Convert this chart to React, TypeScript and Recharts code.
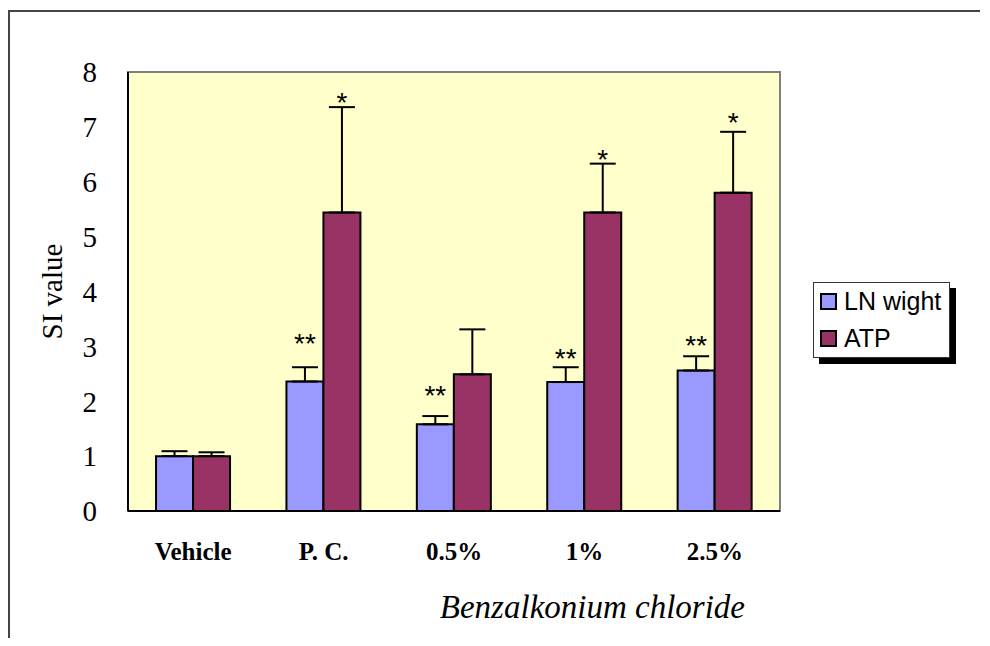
import React from "react";
import {
  Bar,
  BarChart,
  CartesianGrid,
  ErrorBar,
  Label,
  LabelList,
  ReferenceArea,
  XAxis,
  YAxis,
} from "recharts";

const categories = ["Vehicle", "P. C.", "0.5%", "1%", "2.5%"];
const lnWeight = [1.0, 2.36, 1.58, 2.35, 2.56];
const lnErr = [0.09, 0.26, 0.15, 0.27, 0.26];
const atp = [1.0, 5.44, 2.49, 5.44, 5.8];
const atpErr = [0.07, 1.92, 0.82, 0.89, 1.11];
// significance marks and the level (SI units) of their lower edge
const lnStars = ["", "**", "**", "**", "**"];
const lnStarLevel = [0, 3.1, 2.15, 2.82, 3.07];
const atpStars = ["", "*", "", "*", "*"];
const atpStarLevel = [0, 7.49, 0, 6.45, 7.13];
const yTicks = [0, 1, 2, 3, 4, 5, 6, 7, 8];

const serif = "'Liberation Serif', 'Times New Roman', serif";
const sans = "'Liberation Sans', Arial, sans-serif";
const color = { ln: "#9999FF", atp: "#993366", plot: "#FFFFCC" };

const data = categories.map((c, i) => ({
  cat: c,
  ln: lnWeight[i],
  lnErr: [0, lnErr[i]],
  lnStar: lnStars[i],
  atp: atp[i],
  atpErr: [0, atpErr[i]],
  atpStar: atpStars[i],
}));

/** Star label placed at a level given in data units, scaled from the bar itself. */
function starContent(values: number[], levels: number[]) {
  return (p: any) => {
    const { x, y, width, height, value, index } = p;
    if (!value) return null;
    const perUnit = height / values[index];
    const base = y + height;
    const sy = base - levels[index] * perUnit + 12;
    return (
      <text x={x + width / 2} y={sy} textAnchor="middle" fontFamily={sans} fontSize={28} fill="#000">
        {value}
      </text>
    );
  };
}

function CatTick({ x, y, payload }: any) {
  return (
    <text x={x} y={y} dy={49} textAnchor="middle" fontFamily={serif} fontWeight="bold" fontSize={25} fill="#000">
      {payload.value}
    </text>
  );
}

function LegendBox() {
  const items = [
    { label: "LN wight", fill: color.ln },
    { label: "ATP", fill: color.atp },
  ];
  return (
    <div
      style={{
        position: "absolute",
        left: 803,
        top: 270,
        border: "1px solid #333",
        background: "#fff",
        boxShadow: "6px 6px 0 #000",
        padding: "0 8px 0 6px",
        fontFamily: sans,
        fontSize: 25,
        color: "#000",
      }}
    >
      {items.map((it) => (
        <div key={it.label} style={{ display: "flex", alignItems: "center", height: 37 }}>
          <span
            style={{
              width: 13,
              height: 13,
              background: it.fill,
              border: "2px solid #000",
              marginRight: 7,
            }}
          />
          <span>{it.label}</span>
        </div>
      ))}
    </div>
  );
}

export default function App() {
  return (
    <div style={{ paddingTop: 2 }}>
      <div
        style={{
          position: "relative",
          width: 970,
          height: 626,
          borderTop: "2px solid #444",
          borderLeft: "2px solid #444",
          background: "#fff",
        }}
      >
        <BarChart
          width={970}
          height={626}
          data={data}
          margin={{ top: 60, right: 200, bottom: 27, left: 0 }}
          barGap={0}
          barCategoryGap="21.5%"
        >
          <ReferenceArea y1={0} y2={8} fill={color.plot} fillOpacity={1} stroke="#808080" strokeWidth={2} />
          <CartesianGrid vertical={false} stroke="#333" strokeWidth={1} />
          <XAxis
            dataKey="cat"
            height={100}
            tickLine={false}
            tickSize={0}
            tickMargin={0}
            axisLine={{ stroke: "#000", strokeWidth: 2 }}
            tick={<CatTick />}
            interval={0}
          >
            <Label
              content={(p: any) => (
                <text
                  x={p.viewBox.x + 617}
                  y={p.viewBox.y + 107}
                  textAnchor="end"
                  fontFamily={serif}
                  fontStyle="italic"
                  fontSize={33}
                  fill="#000"
                >
                  Benzalkonium chloride
                </text>
              )}
            />
          </XAxis>
          <YAxis
            width={118}
            domain={[0, 8]}
            ticks={yTicks}
            interval={0}
            tickLine={false}
            tickSize={0}
            tickMargin={31}
            axisLine={{ stroke: "#000", strokeWidth: 2 }}
            tick={{ fontFamily: serif, fontSize: 29, fill: "#000" }}
          >
            <Label
              content={(p: any) => {
                const cx = p.viewBox.x + 42;
                const cy = p.viewBox.y + p.viewBox.height / 2;
                return (
                  <text
                    x={cx}
                    y={cy}
                    transform={`rotate(-90 ${cx} ${cy})`}
                    textAnchor="middle"
                    dominantBaseline="central"
                    fontFamily={serif}
                    fontSize={29}
                    fill="#000"
                  >
                    SI value
                  </text>
                );
              }}
            />
          </YAxis>
          <Bar dataKey="ln" name="LN wight" fill={color.ln} stroke="#000" strokeWidth={2} isAnimationActive={false}>
            <ErrorBar dataKey="lnErr" direction="y" width={13} stroke="#000" strokeWidth={2} isAnimationActive={false} />
            <LabelList dataKey="lnStar" content={starContent(lnWeight, lnStarLevel)} />
          </Bar>
          <Bar dataKey="atp" name="ATP" fill={color.atp} stroke="#000" strokeWidth={2} isAnimationActive={false}>
            <ErrorBar dataKey="atpErr" direction="y" width={13} stroke="#000" strokeWidth={2} isAnimationActive={false} />
            <LabelList dataKey="atpStar" content={starContent(atp, atpStarLevel)} />
          </Bar>
        </BarChart>
        <LegendBox />
      </div>
    </div>
  );
}
